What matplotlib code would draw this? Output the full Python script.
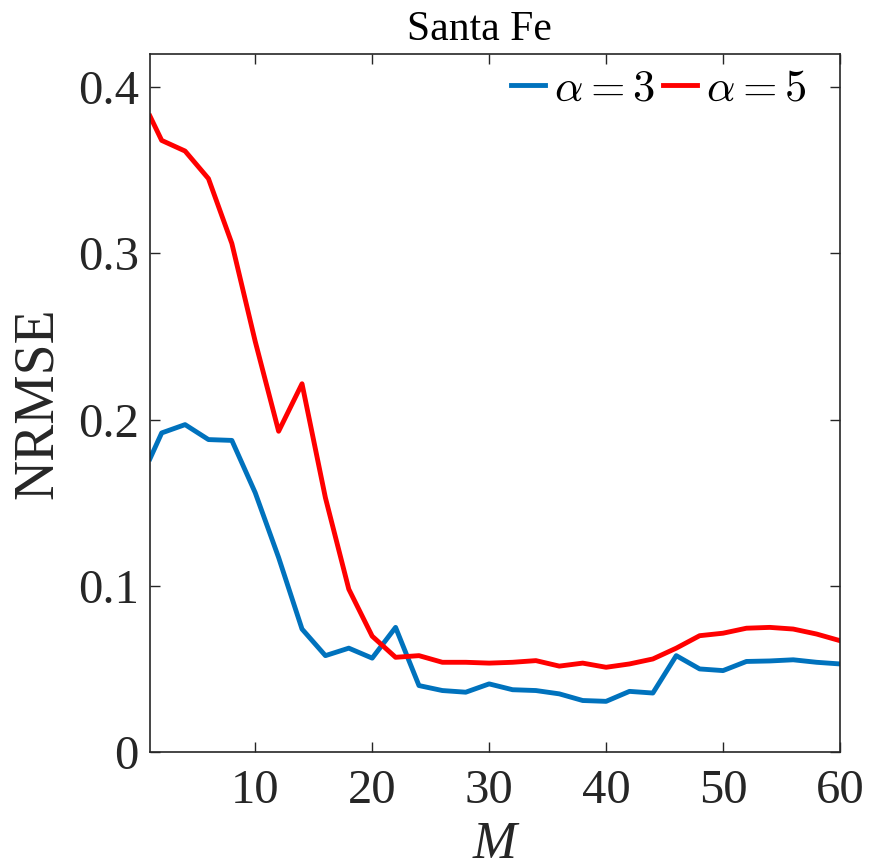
import numpy as np
import matplotlib
matplotlib.use('Agg')
import matplotlib.pyplot as plt

# Santa Fe NRMSE vs M
M = [1, 2, 4, 6, 8, 10, 12, 14, 16, 18, 20, 22, 24, 26, 28, 30, 32, 34, 36, 38,
     40, 42, 44, 46, 48, 50, 52, 54, 56, 58, 60]
nrmse_a3 = [0.1765, 0.192, 0.197, 0.188, 0.1875, 0.156, 0.117, 0.074, 0.058, 0.0625,
            0.0565, 0.075, 0.040, 0.037, 0.036, 0.041, 0.0375, 0.037, 0.035, 0.031,
            0.0305, 0.0365, 0.0355, 0.058, 0.050, 0.049, 0.0545, 0.0548, 0.0555, 0.054, 0.053]
nrmse_a5 = [0.3826, 0.368, 0.3616, 0.345, 0.306, 0.247, 0.193, 0.2216, 0.153, 0.098,
            0.0697, 0.057, 0.058, 0.054, 0.054, 0.0535, 0.054, 0.055, 0.0517, 0.0535,
            0.051, 0.053, 0.056, 0.0625, 0.070, 0.0715, 0.0745, 0.075, 0.074, 0.071, 0.067]

plt.rcParams['font.family'] = ['Liberation Serif', 'DejaVu Serif']
plt.rcParams['mathtext.fontset'] = 'cm'

fig = plt.figure(figsize=(8.7, 8.68), dpi=100)
ax = fig.add_axes([0.1724, 0.1336, 0.7931, 0.8042])

ax.plot(M, nrmse_a3, color='#0072BD', lw=3.5, label=r'$\alpha=3$')
ax.plot(M, nrmse_a5, color='#FF0000', lw=3.5, label=r'$\alpha=5$')

ax.set_xlim(1, 60)
ax.set_ylim(0, 0.42)
ax.set_xticks([10, 20, 30, 40, 50, 60])
ax.set_yticks([0, 0.1, 0.2, 0.3, 0.4])
ax.set_yticklabels(['0', '0.1', '0.2', '0.3', '0.4'])

for s in ax.spines.values():
    s.set_color('#262626')
    s.set_linewidth(1.2)
ax.tick_params(direction='in', top=True, right=True, length=7, width=1,
               color='#262626', labelsize=35, labelcolor='#262626')
ax.tick_params(axis='x', pad=12)
ax.tick_params(axis='y', pad=8)

ax.set_xlabel('M', fontsize=38, fontstyle='italic', color='#262626', labelpad=6)
ax.set_ylabel('NRMSE', fontsize=40, color='#262626', labelpad=10)
ax.set_title('Santa Fe', fontsize=30, pad=10, x=0.477)

ax.legend(loc='upper right', bbox_to_anchor=(0.964, 0.991), ncol=2, frameon=False,
          fontsize=32, handlelength=0.75, handletextpad=0.2, columnspacing=0.2,
          borderaxespad=0.1, borderpad=0.1)

fig.savefig('out.png', dpi=100)
